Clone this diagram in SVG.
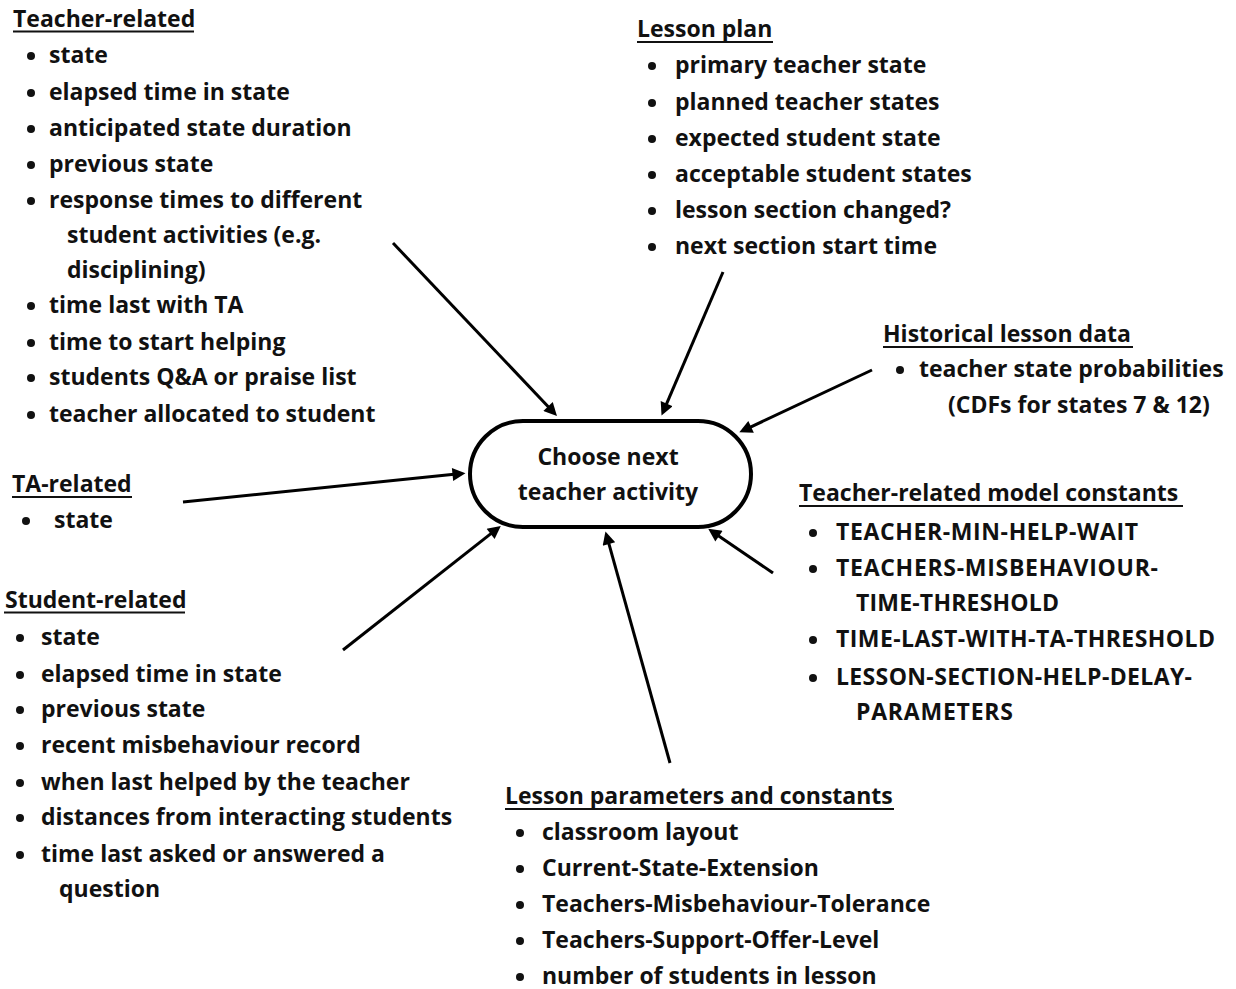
<svg xmlns="http://www.w3.org/2000/svg" width="1236" height="989" viewBox="0 0 1236 989">
<defs>
<marker id="ah" viewBox="0 0 10 10" refX="5" refY="5" markerUnits="userSpaceOnUse" markerWidth="17" markerHeight="13" orient="auto">
<path d="M0,0 L10,5 L0,10 z" fill="#000"/>
</marker>
<style>
text{font-family:"Open Sans","Noto Sans","Liberation Sans",sans-serif;font-weight:bold;font-size:23px;fill:#111;}
.ul{stroke:#111;stroke-width:2;}
.b{fill:#111;}
.conn line{stroke:#000;stroke-width:3;marker-end:url(#ah);}
.node{fill:#fff;stroke:#000;stroke-width:4;}
</style>
</defs>
<rect width="1236" height="989" fill="#fff"/>

<g id="connectors" class="conn">
<line x1="393" y1="243" x2="552.5" y2="411.2"/>
<line x1="723" y1="272" x2="664.1" y2="409.6"/>
<line x1="872" y1="370" x2="745.2" y2="429.6"/>
<line x1="183" y1="502" x2="459" y2="473.8"/>
<line x1="343" y1="650" x2="495.7" y2="529.9"/>
<line x1="670" y1="763" x2="607.2" y2="537.7"/>
<line x1="773" y1="573" x2="713.6" y2="532.5"/>
</g>

<g id="choose-next-activity">
<rect class="node" x="470" y="421" width="281" height="106" rx="53" ry="53"/>
<text x="608" y="465" text-anchor="middle">Choose next</text>
<text x="608" y="500" text-anchor="middle">teacher activity</text>
</g>

<g id="teacher-related">
<text x="13" y="27">Teacher-related</text>
<line class="ul" x1="13" y1="31.5" x2="194" y2="31.5"/>
<circle class="b" cx="31" cy="56" r="4"/>
<text x="49" y="63">state</text>
<circle class="b" cx="31" cy="93" r="4"/>
<text x="49" y="100">elapsed time in state</text>
<circle class="b" cx="31" cy="129" r="4"/>
<text x="49" y="136">anticipated state duration</text>
<circle class="b" cx="31" cy="165" r="4"/>
<text x="49" y="172">previous state</text>
<circle class="b" cx="31" cy="201" r="4"/>
<text x="49" y="208">response times to different</text>
<text x="67" y="243">student activities (e.g.</text>
<text x="67" y="278">disciplining)</text>
<circle class="b" cx="31" cy="306" r="4"/>
<text x="49" y="313">time last with TA</text>
<circle class="b" cx="31" cy="343" r="4"/>
<text x="49" y="350">time to start helping</text>
<circle class="b" cx="31" cy="378" r="4"/>
<text x="49" y="385">students Q&amp;A or praise list</text>
<circle class="b" cx="31" cy="415" r="4"/>
<text x="49" y="422">teacher allocated to student</text>
</g>

<g id="ta-related">
<text x="12" y="492">TA-related</text>
<line class="ul" x1="12" y1="497" x2="132" y2="497"/>
<circle class="b" cx="26" cy="521" r="4"/>
<text x="54" y="528">state</text>
</g>

<g id="student-related">
<text x="5" y="608">Student-related</text>
<line class="ul" x1="4" y1="612.5" x2="185" y2="612.5"/>
<circle class="b" cx="20" cy="638" r="4"/>
<text x="41" y="645">state</text>
<circle class="b" cx="20" cy="675" r="4"/>
<text x="41" y="682">elapsed time in state</text>
<circle class="b" cx="20" cy="710" r="4"/>
<text x="41" y="717">previous state</text>
<circle class="b" cx="20" cy="746" r="4"/>
<text x="41" y="753">recent misbehaviour record</text>
<circle class="b" cx="20" cy="783" r="4"/>
<text x="41" y="790">when last helped by the teacher</text>
<circle class="b" cx="20" cy="818" r="4"/>
<text x="41" y="825">distances from interacting students</text>
<circle class="b" cx="20" cy="855" r="4"/>
<text x="41" y="862">time last asked or answered a</text>
<text x="59" y="897">question</text>
</g>

<g id="lesson-plan">
<text x="637" y="37">Lesson plan</text>
<line class="ul" x1="637" y1="42" x2="773" y2="42"/>
<circle class="b" cx="652" cy="66" r="4"/>
<text x="675" y="73">primary teacher state</text>
<circle class="b" cx="652" cy="103" r="4"/>
<text x="675" y="110">planned teacher states</text>
<circle class="b" cx="652" cy="139" r="4"/>
<text x="675" y="146">expected student state</text>
<circle class="b" cx="652" cy="175" r="4"/>
<text x="675" y="182">acceptable student states</text>
<circle class="b" cx="652" cy="211" r="4"/>
<text x="675" y="218">lesson section changed?</text>
<circle class="b" cx="652" cy="247" r="4"/>
<text x="675" y="254">next section start time</text>
</g>

<g id="historical-lesson-data">
<text x="883" y="342" textLength="248">Historical lesson data</text>
<line class="ul" x1="883" y1="347" x2="1133" y2="347"/>
<circle class="b" cx="900" cy="370" r="4"/>
<text x="919" y="377">teacher state probabilities</text>
<text x="948" y="413">(CDFs for states 7 &amp; 12)</text>
</g>

<g id="teacher-model-constants">
<text x="799" y="501">Teacher-related model constants</text>
<line class="ul" x1="799" y1="506" x2="1183" y2="506"/>
<circle class="b" cx="813" cy="533" r="4"/>
<text x="836" y="540" textLength="302">TEACHER-MIN-HELP-WAIT</text>
<circle class="b" cx="813" cy="569" r="4"/>
<text x="836" y="576" textLength="322">TEACHERS-MISBEHAVIOUR-</text>
<text x="856" y="611" textLength="203">TIME-THRESHOLD</text>
<circle class="b" cx="813" cy="640" r="4"/>
<text x="836" y="647" textLength="379">TIME-LAST-WITH-TA-THRESHOLD</text>
<circle class="b" cx="813" cy="678" r="4"/>
<text x="836" y="685" textLength="356">LESSON-SECTION-HELP-DELAY-</text>
<text x="856" y="720" textLength="157">PARAMETERS</text>
</g>

<g id="lesson-parameters">
<text x="505" y="804">Lesson parameters and constants</text>
<line class="ul" x1="505" y1="809" x2="894" y2="809"/>
<circle class="b" cx="520" cy="833" r="4"/>
<text x="542" y="840">classroom layout</text>
<circle class="b" cx="520" cy="869" r="4"/>
<text x="542" y="876">Current-State-Extension</text>
<circle class="b" cx="520" cy="905" r="4"/>
<text x="542" y="912">Teachers-Misbehaviour-Tolerance</text>
<circle class="b" cx="520" cy="941" r="4"/>
<text x="542" y="948">Teachers-Support-Offer-Level</text>
<circle class="b" cx="520" cy="977" r="4"/>
<text x="542" y="984">number of students in lesson</text>
</g>
</svg>
